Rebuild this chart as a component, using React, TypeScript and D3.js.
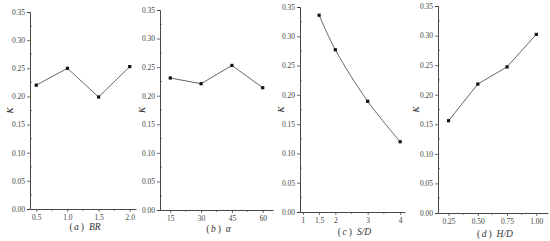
import { useRef, useEffect } from "react";
import * as d3 from "d3";

// panel (a) BR
const brValues = [0.5, 1.0, 1.5, 2.0];
const brK = [0.22, 0.25, 0.199, 0.253];
const brTicks = [0.5, 1.0, 1.5, 2.0];

// panel (b) alpha
const alphaValues = [15, 30, 45, 60];
const alphaK = [0.231, 0.221, 0.253, 0.214];
const alphaTicks = [15, 30, 45, 60];

// panel (c) S/D
const sdValues = [1.5, 2, 3, 4];
const sdK = [0.336, 0.277, 0.189, 0.12];
const sdTicks = [1, 1.5, 2, 3, 4];

// panel (d) H/D
const hdValues = [0.25, 0.5, 0.75, 1.0];
const hdK = [0.156, 0.218, 0.247, 0.302];
const hdTicks = [0.25, 0.5, 0.75, 1.0];

const yTicks = [0, 0.05, 0.1, 0.15, 0.2, 0.25, 0.3, 0.35];

const panels = [
  { letter: "a", name: "BR", xs: brValues, ys: brK, ticks: brTicks, minor: [0.75, 1.25, 1.75], fmt: ".1f", domain: [0.4, 2.1], left: 30, right: 136, top: 12, bottom: 209, kx: 10, capY: 230, smooth: false },
  { letter: "b", name: "α", xs: alphaValues, ys: alphaK, ticks: alphaTicks, minor: [22.5, 37.5, 52.5], fmt: "d", domain: [10, 65], left: 160, right: 273, top: 10, bottom: 210, kx: 142, capY: 232, smooth: false },
  { letter: "c", name: "S/D", xs: sdValues, ys: sdK, ticks: sdTicks, minor: [2.5, 3.5], fmt: "", domain: [0.91, 4.15], left: 300, right: 405, top: 7, bottom: 212, kx: 281, capY: 235, smooth: true },
  { letter: "d", name: "H/D", xs: hdValues, ys: hdK, ticks: hdTicks, minor: [0.375, 0.625, 0.875], fmt: ".2f", domain: [0.16, 1.1], left: 438, right: 548, top: 6, bottom: 213, kx: 416, capY: 237, smooth: false },
];

const serif = "'Liberation Serif', 'DejaVu Serif', serif";

export default function App() {
  const ref = useRef<SVGSVGElement | null>(null);

  useEffect(() => {
    const svg = d3.select(ref.current);
    svg.selectAll("*").remove();

    panels.forEach((p) => {
      const x = d3.scaleLinear().domain(p.domain).range([p.left, p.right]);
      const y = d3.scaleLinear().domain([0, 0.35]).range([p.bottom, p.top]);
      const g = svg.append("g");

      // y axis
      const yAxis = d3.axisLeft(y).tickValues(yTicks).tickFormat(d3.format(".2f")).tickSize(3).tickPadding(2);
      const ya = g.append("g").attr("transform", `translate(${p.left},0)`).call(yAxis);
      const yMinor = d3.range(0.025, 0.35, 0.05);
      ya.selectAll(".minor").data(yMinor).enter().append("line")
        .attr("class", "minor")
        .attr("x1", 0).attr("x2", 2)
        .attr("y1", (d) => y(d)).attr("y2", (d) => y(d))
        .attr("stroke", "#444").attr("stroke-width", 0.6);

      // x axis
      const fmt = p.fmt ? d3.format(p.fmt) : (d: any) => String(d);
      const xAxis = d3.axisBottom(x).tickValues(p.ticks).tickFormat(fmt as any).tickSize(3).tickPadding(3).tickSizeOuter(0);
      const xa = g.append("g").attr("transform", `translate(0,${p.bottom})`).call(xAxis);
      xa.selectAll(".minor").data(p.minor).enter().append("line")
        .attr("class", "minor")
        .attr("x1", (d) => x(d)).attr("x2", (d) => x(d))
        .attr("y1", 0).attr("y2", 2)
        .attr("stroke", "#444").attr("stroke-width", 0.6);

      [ya, xa].forEach((a) => {
        a.select(".domain").attr("stroke", "#333").attr("stroke-width", 0.9);
        a.selectAll(".tick line").attr("stroke", "#333").attr("stroke-width", 0.7);
        a.selectAll(".tick text")
          .attr("fill", "#444")
          .style("font-family", serif)
          .style("font-size", "7.5px");
      });

      // y label
      g.append("text")
        .attr("transform", `translate(${p.kx},${(p.top + p.bottom) / 2}) rotate(-90)`)
        .attr("text-anchor", "middle")
        .attr("dy", "0.35em")
        .style("font-family", serif)
        .style("font-style", "italic")
        .style("font-size", "9px")
        .attr("fill", "#222")
        .text("K");

      // caption
      const cap = g.append("text")
        .attr("x", (p.left + p.right) / 2 + 2)
        .attr("y", p.capY)
        .attr("text-anchor", "middle")
        .style("font-family", serif)
        .style("font-size", "9.5px")
        .attr("fill", "#333");
      cap.append("tspan").text("(");
      cap.append("tspan").attr("dx", 1.5).style("font-style", "italic").text(p.letter);
      cap.append("tspan").attr("dx", 2).text(")");
      cap.append("tspan").attr("dx", 5).style("font-style", "italic").text(p.name);

      // line
      const pts = p.xs.map((v, i) => [v, p.ys[i]] as [number, number]);
      const line = d3.line<[number, number]>()
        .x((d) => x(d[0]))
        .y((d) => y(d[1]))
        .curve(p.smooth ? d3.curveCatmullRom : d3.curveLinear);
      g.append("path")
        .datum(pts)
        .attr("fill", "none")
        .attr("stroke", "#555")
        .attr("stroke-width", 0.9)
        .attr("d", line);

      g.selectAll(".pt").data(pts).enter().append("rect")
        .attr("class", "pt")
        .attr("x", (d) => x(d[0]) - 1.6)
        .attr("y", (d) => y(d[1]) - 1.6)
        .attr("width", 3.2)
        .attr("height", 3.2)
        .attr("fill", "#111");
    });
  }, []);

  return (
    <svg
      ref={ref}
      width={550}
      height={241}
      style={{ position: "absolute", left: 0, top: 0, background: "#fff" }}
    />
  );
}
